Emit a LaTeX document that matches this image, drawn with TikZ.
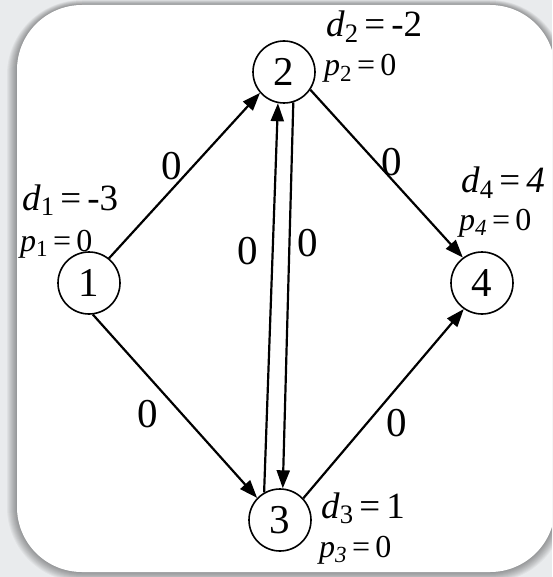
\documentclass[tikz,border=0pt]{standalone}
\usepackage{fontspec}
\setmainfont{Liberation Serif}
\usetikzlibrary{arrows.meta}
\definecolor{Paper}{HTML}{E9EBED}

\tikzset{
  vertex/.style={draw,circle,line width=1.6pt,minimum size=62pt,inner sep=0pt,
    font=\fontsize{41}{41}\selectfont},
  arc/.style={line width=2.2pt,-{Triangle[length=18pt,width=13pt]}},
  wlabel/.style={inner sep=0pt,font=\fontsize{41}{41}\selectfont},
  dlabel/.style={anchor=base west,inner sep=0pt,font=\fontsize{37}{37}\selectfont},
  plabel/.style={anchor=base west,inner sep=0pt,font=\fontsize{32}{32}\selectfont},
}
\newcommand{\lowsub}[1]{\raisebox{-0.35ex}{\scalebox{0.72}{#1}}}

\begin{document}
\begin{tikzpicture}[x=1pt,y=1pt]
        \useasboundingbox (0,0) rectangle (552,-577);
        \clip (0,0) rectangle (552,-577);
        \fill[Paper] (0,0) rectangle (552,-577);
        % frame and its shadow
        \foreach \s in {1,...,10}
          \fill[black,opacity=0.04,rounded corners={65pt+\s pt}]
            (17-\s,-5+0.5*\s) rectangle (555+\s,-572-\s);
        \fill[white,rounded corners=65pt] (17,-5) rectangle (555,-572);

        % nodes
        \node[vertex] (n1) at (89,-283) {1};
        \node[vertex] (n2) at (284,-72) {2};
        \node[vertex] (n3) at (280,-520) {3};
        \node[vertex] (n4) at (482,-283) {4};

        % arcs
        \draw[arc] (n1.51) -- (n2.221);
        \draw[arc] (n1.-83) -- (n3.136);
        \draw[arc] (n2.-34) -- (n4.127);
        \draw[arc] (n3.43) -- (n4.235);
        \draw[arc] (n3.120) -- (n2.259);
        \draw[arc] (n2.-73) -- (n3.85);

        % arc costs
        \node[wlabel] (w12) at (172,-166) {0};
        \node[wlabel] (w13) at (148,-414) {0};
        \node[wlabel] (w24) at (392,-162) {0};
        \node[wlabel] (w34) at (397,-423) {0};
        \node[wlabel] (w32) at (248,-251) {0};
        \node[wlabel] (w23) at (308,-243) {0};

        % supplies and prices
        \node[dlabel] (d1) at (22,-210) {\textit{d}\lowsub{1}\,=\,-3};
        \node[plabel] (p1) at (20,-251) {\textit{p}\lowsub{1}\,=\,0};
        \node[dlabel] (d2) at (326,-37) {\textit{d}\lowsub{2}\,=\,-2};
        \node[plabel] (p2) at (324,-76) {\textit{p}\lowsub{2}\,=\,0};
        \node[dlabel] (d3) at (321,-518) {\textit{d}\lowsub{3}\,=\,1};
        \node[plabel] (p3) at (319,-557) {\textit{p}\lowsub{\textit{3}}\,=\,0};
        \node[dlabel] (d4) at (461,-193) {\textit{d}\lowsub{4}\,=\,\textit{4}};
        \node[plabel] (p4) at (459,-230) {\textit{p}\lowsub{\textit{4}}\,=\,0};
      \end{tikzpicture}
\end{document}
